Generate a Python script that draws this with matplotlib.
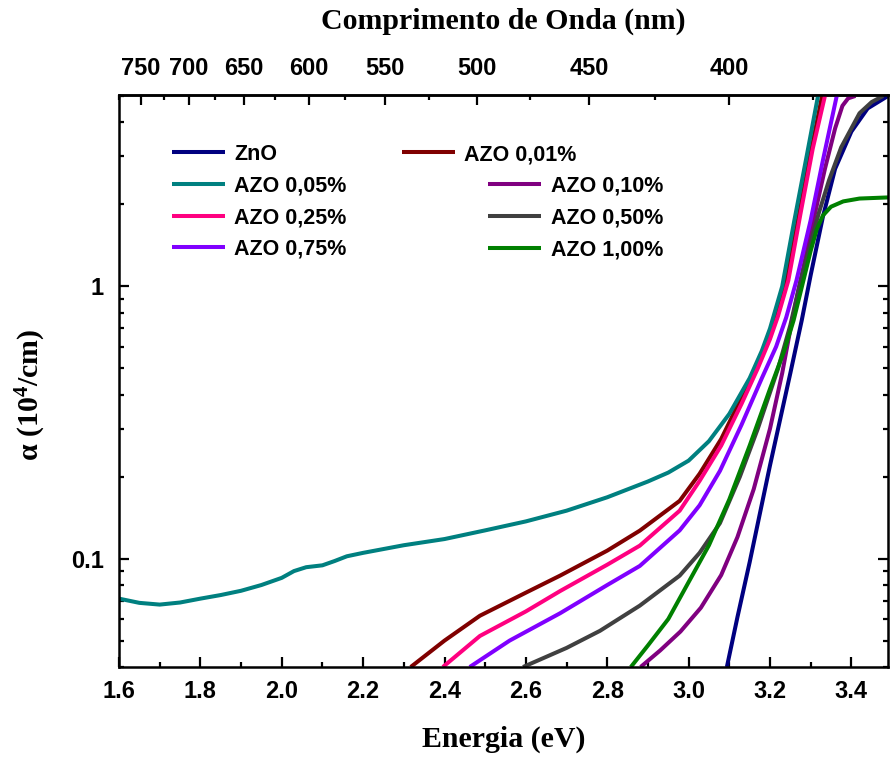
import numpy as np
import matplotlib
matplotlib.use("Agg")
import matplotlib.pyplot as plt
from matplotlib.ticker import FixedLocator, LogLocator, NullFormatter, MultipleLocator

plt.rcParams['font.family'] = 'Liberation Sans'
plt.rcParams['font.weight'] = 'bold'
plt.rcParams['mathtext.fontset'] = 'custom'
plt.rcParams['mathtext.rm'] = 'Liberation Serif:bold'
plt.rcParams['mathtext.bf'] = 'Liberation Serif:bold'
plt.rcParams['mathtext.default'] = 'bf'

# energia (eV) e coeficiente de absorcao (10^4/cm)
zno_E = [3.094, 3.12, 3.15, 3.2, 3.25, 3.278, 3.3, 3.33, 3.36, 3.4, 3.44, 3.49]
zno_a = [0.04, 0.061, 0.097, 0.22, 0.48, 0.75, 1.1, 1.8, 2.7, 3.7, 4.5, 5.0]

azo001_E = [2.317, 2.4, 2.487, 2.6, 2.684, 2.8, 2.88, 2.978, 3.027, 3.08, 3.13,
            3.17, 3.2, 3.22, 3.24, 3.27, 3.3, 3.328]
azo001_a = [0.04, 0.05, 0.0617, 0.075, 0.0866, 0.107, 0.1267, 0.163, 0.205, 0.275,
            0.39, 0.52, 0.66, 0.82, 1.05, 1.8, 3.1, 5.0]

azo005_E = [1.6, 1.65, 1.7, 1.75, 1.8, 1.85, 1.9, 1.95, 2.0, 2.03, 2.06, 2.1, 2.13,
            2.16, 2.2, 2.3, 2.4, 2.5, 2.6, 2.7, 2.8, 2.9, 2.95, 3.0, 3.05, 3.1,
            3.15, 3.18, 3.2, 3.23, 3.26, 3.29, 3.318]
azo005_a = [0.0713, 0.0688, 0.0678, 0.069, 0.0713, 0.0735, 0.0762, 0.080, 0.085,
            0.090, 0.093, 0.0945, 0.098, 0.102, 0.105, 0.112, 0.118, 0.127, 0.137,
            0.150, 0.168, 0.192, 0.207, 0.229, 0.27, 0.34, 0.46, 0.58, 0.70, 1.0,
            1.75, 3.0, 5.0]

azo010_E = [2.882, 2.93, 2.98, 3.03, 3.08, 3.12, 3.16, 3.2, 3.23, 3.252, 3.275,
            3.305, 3.335, 3.36, 3.378, 3.392, 3.41]
azo010_a = [0.04, 0.046, 0.054, 0.066, 0.087, 0.12, 0.18, 0.30, 0.48, 0.72, 1.05,
            1.7, 2.7, 3.8, 4.6, 4.9, 5.0]

azo025_E = [2.396, 2.487, 2.6, 2.684, 2.8, 2.88, 2.978, 3.027, 3.08, 3.13, 3.17,
            3.2, 3.22, 3.245, 3.275, 3.305, 3.335]
azo025_a = [0.04, 0.052, 0.064, 0.076, 0.095, 0.1116, 0.15, 0.193, 0.26, 0.37,
            0.50, 0.64, 0.78, 1.05, 1.85, 3.2, 5.0]

azo050_E = [2.593, 2.7, 2.782, 2.88, 2.978, 3.027, 3.077, 3.126, 3.17, 3.22, 3.25,
            3.275, 3.297, 3.32, 3.345, 3.375, 3.42, 3.45, 3.478]
azo050_a = [0.04, 0.047, 0.0543, 0.0672, 0.0866, 0.105, 0.135, 0.2, 0.30, 0.50,
            0.72, 1.05, 1.39, 1.86, 2.45, 3.24, 4.32, 4.75, 5.0]

azo075_E = [2.462, 2.56, 2.684, 2.8, 2.88, 2.978, 3.027, 3.077, 3.13, 3.18, 3.215,
            3.24, 3.265, 3.3, 3.33, 3.364]
azo075_a = [0.04, 0.05, 0.063, 0.08, 0.094, 0.127, 0.157, 0.21, 0.31, 0.46, 0.6,
            0.77, 1.05, 1.75, 2.9, 5.0]

azo100_E = [2.858, 2.9, 2.95, 3.0, 3.05, 3.1, 3.15, 3.2, 3.235, 3.258, 3.28, 3.3,
            3.315, 3.33, 3.35, 3.38, 3.42, 3.49]
azo100_a = [0.04, 0.048, 0.060, 0.082, 0.112, 0.165, 0.26, 0.42, 0.58, 0.75, 1.02,
            1.35, 1.62, 1.82, 1.96, 2.05, 2.1, 2.12]

series = [
    ("ZnO", zno_E, zno_a, "#000080"),
    ("AZO 0,01%", azo001_E, azo001_a, "#800000"),
    ("AZO 0,05%", azo005_E, azo005_a, "#008080"),
    ("AZO 0,10%", azo010_E, azo010_a, "#800080"),
    ("AZO 0,25%", azo025_E, azo025_a, "#FF0080"),
    ("AZO 0,50%", azo050_E, azo050_a, "#404040"),
    ("AZO 0,75%", azo075_E, azo075_a, "#8000FF"),
    ("AZO 1,00%", azo100_E, azo100_a, "#008000"),
]

nm_major = [750, 700, 650, 600, 550, 500, 450, 400]
nm_minor = [775, 725, 675, 625, 575, 525, 475, 425, 375]


def ev_to_nm(x):
    x = np.asarray(x, dtype=float)
    with np.errstate(divide='ignore', invalid='ignore'):
        return 1240.0 / x


fig = plt.figure(figsize=(8.9, 7.58), dpi=100)
ax = fig.add_axes([119 / 890, 1 - 667 / 758, 769 / 890, 572 / 758])

lines = {}
for name, E, a, c in series:
    ln, = ax.plot(E, a, color=c, lw=2.9, label=name, solid_capstyle='butt')
    lines[name] = ln

ax.set_yscale('log')
ax.set_xlim(1.6, 3.49)
ax.set_ylim(0.04, 5.04)

ax.set_yticks([0.1, 1])
ax.set_yticklabels(['0.1', '1'])
ax.yaxis.set_minor_locator(LogLocator(base=10, subs=np.arange(2, 10)))
ax.yaxis.set_minor_formatter(NullFormatter())
ax.xaxis.set_major_locator(MultipleLocator(0.2))
ax.xaxis.set_minor_locator(MultipleLocator(0.1))
ax.xaxis.set_major_formatter(lambda v, p: f"{v:.1f}")

ax.tick_params(which='both', direction='in', width=1.6, labelsize=17)
ax.tick_params(which='major', length=7)
ax.tick_params(which='minor', length=3.5)
ax.tick_params(axis='y', which='both', right=True, pad=11)
ax.tick_params(axis='x', pad=9)
for s in ax.spines.values():
    s.set_linewidth(1.8)

secax = ax.secondary_xaxis('top', functions=(ev_to_nm, ev_to_nm))
secax.set_xticks(nm_major)
secax.xaxis.set_minor_locator(FixedLocator(nm_minor))
secax.tick_params(which='both', direction='in', width=1.6, labelsize=17, pad=11)
secax.tick_params(which='major', length=7)
secax.tick_params(which='minor', length=3.5)
secax.spines['top'].set_linewidth(1.8)

serif = dict(family='Liberation Serif', weight='bold', size=21.5)
ax.set_xlabel("Energia (eV)", fontdict=serif, labelpad=17)
secax.set_xlabel("Comprimento de Onda (nm)", fontdict=serif, labelpad=20)
ax.set_ylabel(r"α (10$^{4}$/cm)", fontdict=serif)
ax.yaxis.set_label_coords(-0.092, 0.476)

leg_kw = dict(frameon=False, loc='upper left', borderpad=0, borderaxespad=0,
              handlelength=2.45, handletextpad=0.45, labelspacing=0.49,
              prop=dict(family='Liberation Sans', weight='bold', size=15.5))
leg1 = ax.legend(handles=[lines[n] for n in ["ZnO", "AZO 0,05%", "AZO 0,25%", "AZO 0,75%"]],
                 bbox_to_anchor=(0.069, 0.9143), **leg_kw)
ax.add_artist(leg1)
leg2 = ax.legend(handles=[lines["AZO 0,01%"]], bbox_to_anchor=(0.368, 0.9143), **leg_kw)
ax.add_artist(leg2)
ax.legend(handles=[lines[n] for n in ["AZO 0,10%", "AZO 0,50%", "AZO 1,00%"]],
          bbox_to_anchor=(0.48, 0.8584), **leg_kw)

fig.savefig("out.png", dpi=100)
